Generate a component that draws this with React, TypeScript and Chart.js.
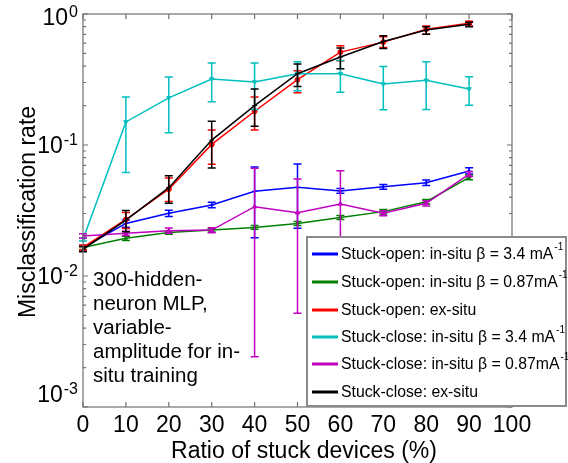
import React, { useEffect, useRef } from 'react';
import { Chart, registerables } from 'chart.js';
Chart.register(...registerables);

const FONT = "'Liberation Sans', Arial, sans-serif";

// ---- data ----
const ratios = [0, 10, 20, 30, 40, 50, 60, 70, 80, 90];
const xTicks = [0, 10, 20, 30, 40, 50, 60, 70, 80, 90, 100];
const yDecades = [1, 0.1, 0.01, 0.001];
const yExponents = ['0', '-1', '-2', '-3'];

const openInSitu34 = [0.0165, 0.0252, 0.0301, 0.0348, 0.0443, 0.0475, 0.0446, 0.048, 0.0515, 0.0633];
const openInSitu34Hi = [0.0172, 0.0268, 0.0318, 0.0365, 0.068, 0.0716, 0.0465, 0.050, 0.054, 0.067];
const openInSitu34Lo = [0.0158, 0.0236, 0.0285, 0.0332, 0.0196, 0.0231, 0.0428, 0.046, 0.049, 0.060];

const openInSitu087 = [0.0165, 0.0194, 0.0215, 0.0224, 0.0235, 0.0252, 0.028, 0.031, 0.0369, 0.0566];
const openInSitu087Hi = [0.0171, 0.0201, 0.0222, 0.0231, 0.0243, 0.0261, 0.029, 0.0322, 0.0383, 0.059];
const openInSitu087Lo = [0.0159, 0.0187, 0.0208, 0.0217, 0.0227, 0.0243, 0.027, 0.0298, 0.0355, 0.0542];

const openExSitu = [0.0165, 0.027, 0.046, 0.101, 0.181, 0.315, 0.512, 0.61, 0.765, 0.85];
const openExSituHi = [0.0172, 0.0305, 0.056, 0.13, 0.233, 0.369, 0.572, 0.67, 0.81, 0.88];
const openExSituLo = [0.0158, 0.023, 0.037, 0.0714, 0.13, 0.25, 0.44, 0.555, 0.70, 0.81];

const closeInSitu34 = [0.019, 0.15, 0.229, 0.319, 0.303, 0.35, 0.35, 0.292, 0.312, 0.268];
const closeInSitu34Hi = [0.0195, 0.233, 0.33, 0.422, 0.422, 0.432, 0.442, 0.398, 0.432, 0.332];
const closeInSitu34Lo = [0.0185, 0.0617, 0.124, 0.214, 0.187, 0.26, 0.253, 0.186, 0.187, 0.201];

const closeInSitu087 = [0.0202, 0.0212, 0.0222, 0.0224, 0.0338, 0.0304, 0.0355, 0.0301, 0.0359, 0.06];
const closeInSitu087Hi = [0.021, 0.022, 0.0232, 0.0234, 0.0664, 0.055, 0.0637, 0.0315, 0.0375, 0.0625];
const closeInSitu087Lo = [0.0194, 0.0204, 0.0212, 0.0214, 0.00242, 0.00519, 0.012, 0.0288, 0.0343, 0.0575];

const closeExSitu = [0.016, 0.0267, 0.0472, 0.109, 0.2, 0.35, 0.469, 0.616, 0.756, 0.835];
const closeExSituHi = [0.0167, 0.0316, 0.0583, 0.152, 0.268, 0.415, 0.549, 0.681, 0.80, 0.865];
const closeExSituLo = [0.0153, 0.0218, 0.0359, 0.0666, 0.139, 0.28, 0.382, 0.545, 0.70, 0.80];

const seriesLabels = [
  'Stuck-open: in-situ \u03b2 = 3.4 mA',
  'Stuck-open: in-situ \u03b2 = 0.87mA',
  'Stuck-open: ex-situ',
  'Stuck-close: in-situ \u03b2 = 3.4 mA',
  'Stuck-close: in-situ \u03b2 = 0.87mA',
  'Stuck-close: ex-situ',
];
const seriesSuper = ['-1', '-1', '', '-1', '-1', ''];
const seriesColors = ['#0000ff', '#008000', '#ff0000', '#00bfbf', '#bf00bf', '#000000'];
const seriesMarkers = ['cross', 'star', 'circle', 'triangle', 'triangle', 'cross'];
const seriesValues = [openInSitu34, openInSitu087, openExSitu, closeInSitu34, closeInSitu087, closeExSitu];
const seriesHi = [openInSitu34Hi, openInSitu087Hi, openExSituHi, closeInSitu34Hi, closeInSitu087Hi, closeExSituHi];
const seriesLo = [openInSitu34Lo, openInSitu087Lo, openExSituLo, closeInSitu34Lo, closeInSitu087Lo, closeExSituLo];

const annotationLines = ['300-hidden-', 'neuron MLP,', 'variable-', 'amplitude for in-', 'situ training'];
const xTitle = 'Ratio of stuck devices (%)';
const yTitle = 'Misclassification rate';

const errorBarPlugin = {
  id: 'errorBars',
  afterDatasetDraw(chart: any, args: any) {
    const i = args.index;
    const ctx = chart.ctx;
    const xs = chart.scales.x;
    const ys = chart.scales.y;
    ctx.save();
    ctx.strokeStyle = seriesColors[i];
    ctx.lineWidth = 1.5;
    ratios.forEach((r, k) => {
      const px = xs.getPixelForValue(r);
      const yh = ys.getPixelForValue(seriesHi[i][k]);
      const yl = ys.getPixelForValue(seriesLo[i][k]);
      ctx.beginPath();
      ctx.moveTo(px, yh);
      ctx.lineTo(px, yl);
      ctx.moveTo(px - 4, yh);
      ctx.lineTo(px + 4, yh);
      ctx.moveTo(px - 4, yl);
      ctx.lineTo(px + 4, yl);
      ctx.stroke();
    });
    ctx.restore();
  },
};

const framePlugin = {
  id: 'frame',
  afterDraw(chart: any) {
    const ctx = chart.ctx;
    const { left, right, top, bottom } = chart.chartArea;
    const xs = chart.scales.x;
    const ys = chart.scales.y;
    ctx.save();
    // frame
    ctx.strokeStyle = '#707070';
    ctx.lineWidth = 1.2;
    ctx.strokeRect(left, top, right - left, bottom - top);
    ctx.beginPath();
    xTicks.forEach((t) => {
      const px = xs.getPixelForValue(t);
      ctx.moveTo(px, bottom);
      ctx.lineTo(px, bottom - 5);
      ctx.moveTo(px, top);
      ctx.lineTo(px, top + 5);
    });
    yDecades.forEach((d) => {
      const py = ys.getPixelForValue(d);
      ctx.moveTo(left, py);
      ctx.lineTo(left + 5, py);
      ctx.moveTo(right, py);
      ctx.lineTo(right - 5, py);
      if (d < 1) {
        for (let m = 2; m <= 9; m++) {
          const pm = ys.getPixelForValue(d * m);
          ctx.moveTo(left, pm);
          ctx.lineTo(left + 3, pm);
          ctx.moveTo(right, pm);
          ctx.lineTo(right - 3, pm);
        }
      }
    });
    ctx.stroke();

    // tick labels
    ctx.fillStyle = '#000';
    ctx.font = `23px ${FONT}`;
    ctx.textAlign = 'center';
    ctx.textBaseline = 'alphabetic';
    xTicks.forEach((t) => {
      ctx.fillText(String(t), xs.getPixelForValue(t), 432);
    });
    yDecades.forEach((d, k) => {
      const py = ys.getPixelForValue(d);
      const base = Math.min(Math.max(py + 8, 25), 402);
      ctx.font = `16px ${FONT}`;
      const supW = ctx.measureText(yExponents[k]).width;
      ctx.textAlign = 'left';
      ctx.fillText(yExponents[k], 78 - supW, base - 8);
      ctx.font = `23px ${FONT}`;
      ctx.textAlign = 'right';
      ctx.fillText('10', 78 - supW - 1, base);
    });

    // axis titles
    ctx.font = `23px ${FONT}`;
    ctx.textAlign = 'center';
    ctx.fillText(xTitle, 304, 458);
    ctx.save();
    ctx.translate(35, 212);
    ctx.rotate(-Math.PI / 2);
    ctx.fillText(yTitle, 0, 0);
    ctx.restore();

    // annotation
    ctx.font = `20.5px ${FONT}`;
    ctx.textAlign = 'left';
    annotationLines.forEach((line, k) => {
      ctx.fillText(line, 93, 286 + k * 24);
    });

    // legend
    const lx = 307, ly = 237, lw = 259, lh = 169;
    ctx.fillStyle = '#fff';
    ctx.fillRect(lx, ly, lw, lh);
    ctx.strokeStyle = '#8a8a8a';
    ctx.lineWidth = 2;
    ctx.strokeRect(lx, ly, lw, lh);
    const rowY = [254, 282, 310, 337, 364, 392];
    seriesLabels.forEach((lab, k) => {
      const y = rowY[k];
      ctx.strokeStyle = seriesColors[k];
      ctx.lineWidth = 3;
      ctx.beginPath();
      ctx.moveTo(312, y);
      ctx.lineTo(338, y);
      ctx.stroke();
      ctx.fillStyle = '#000';
      ctx.font = `15.8px ${FONT}`;
      ctx.textAlign = 'left';
      ctx.textBaseline = 'middle';
      ctx.fillText(lab, 341, y + 1);
      if (seriesSuper[k]) {
        const w = ctx.measureText(lab).width;
        ctx.font = `10px ${FONT}`;
        ctx.fillText(seriesSuper[k], 341 + w + 1, y - 7);
      }
    });
    ctx.restore();
  },
};

export default function App() {
  const ref = useRef<HTMLCanvasElement>(null);
  useEffect(() => {
    document.body.style.margin = '0';
    const canvas = ref.current!;
    const datasets = seriesValues.map((vals, i) => ({
      label: seriesLabels[i],
      data: ratios.map((r, k) => ({ x: r, y: vals[k] })),
      borderColor: seriesColors[i],
      backgroundColor: seriesColors[i],
      borderWidth: 1.5,
      pointStyle: seriesMarkers[i] as any,
      pointRotation: i === 3 ? 180 : 0,
      pointRadius: 2.5,
      pointBorderWidth: 1,
      fill: false,
      tension: 0,
      order: 6 - i,
    }));
    const chart = new Chart(canvas, {
      type: 'line',
      data: { datasets },
      options: {
        animation: false,
        responsive: false,
        maintainAspectRatio: false,
        layout: { padding: { left: 83, right: 56, top: 14, bottom: 56 } },
        plugins: { legend: { display: false }, tooltip: { enabled: false } },
        scales: {
          x: { type: 'linear', min: 0, max: 100, display: false },
          y: { type: 'logarithmic', min: 0.001, max: 1, display: false },
        },
      },
      plugins: [errorBarPlugin, framePlugin],
    });
    return () => chart.destroy();
  }, []);
  return (
    <div style={{ width: 568, height: 463 }}>
      <canvas ref={ref} width={568} height={463} style={{ display: 'block' }} />
    </div>
  );
}
